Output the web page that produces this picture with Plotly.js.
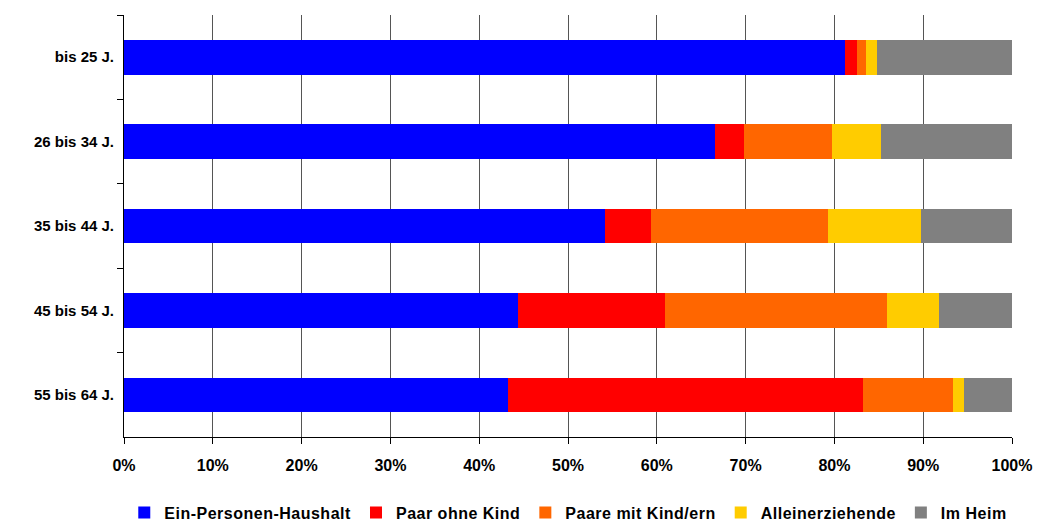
<!DOCTYPE html>
<html>
<head>
<meta charset="utf-8">
<script src="https://cdn.plot.ly/plotly-3.0.1.min.js"></script>
<style>
html,body{margin:0;padding:0;background:#fff;}
#chart{width:1037px;height:522px;}
.legendtext{letter-spacing:0.5px;}
</style>
</head>
<body>
<div id="chart"></div>
<script>
const categories = ["bis 25 J.", "26 bis 34 J.", "35 bis 44 J.", "45 bis 54 J.", "55 bis 64 J."];
const seriesNames = ["Ein-Personen-Haushalt", "Paar ohne Kind", "Paare mit Kind/ern", "Alleinerziehende", "Im Heim"];
const einPersonen = [81.2, 66.5, 54.2, 44.4, 43.2];
const paarOhneKind = [1.3, 3.3, 5.2, 16.5, 40.0];
const paareMitKind = [1.1, 9.9, 19.9, 25.0, 10.2];
const alleinerziehende = [1.2, 5.5, 10.4, 5.9, 1.2];
const imHeim = [15.2, 14.8, 10.3, 8.2, 5.4];
const colors = ["#0000FF", "#FF0000", "#FF6600", "#FFCC00", "#808080"];
const tickVals = [0, 10, 20, 30, 40, 50, 60, 70, 80, 90, 100];
const tickText = ["0%", "10%", "20%", "30%", "40%", "50%", "60%", "70%", "80%", "90%", "100%"];

const allSeries = [einPersonen, paarOhneKind, paareMitKind, alleinerziehende, imHeim];
const data = allSeries.map((vals, i) => ({
  type: "bar",
  orientation: "h",
  name: seriesNames[i],
  x: vals,
  y: categories,
  marker: {color: colors[i], line: {width: 0}},
  hoverinfo: "x+name"
}));

const fam = "Liberation Sans, Arial, sans-serif";

const layout = {
  width: 1037,
  height: 522,
  margin: {l: 124, r: 25, t: 15, b: 85},
  barmode: "stack",
  bargap: 0.59,
  paper_bgcolor: "#fff",
  plot_bgcolor: "#fff",
  font: {family: fam, size: 14, color: "#000"},
  showlegend: true,
  legend: {
    orientation: "h",
    xref: "container", x: 0.548, xanchor: "center",
    yref: "container", y: 0.018, yanchor: "middle",
    font: {family: fam, size: 16, color: "#000", weight: "bold"},
    itemwidth: 30,
    traceorder: "normal"
  },
  xaxis: {
    range: [0, 100],
    tickvals: tickVals,
    ticktext: tickText,
    showgrid: true,
    gridcolor: "#555",
    gridwidth: 1,
    showline: true,
    linecolor: "#000",
    linewidth: 1,
    ticks: "outside",
    ticklen: 6,
    tickcolor: "#000",
    ticklabelstandoff: 8,
    zeroline: false,
    tickfont: {family: fam, size: 16, color: "#000", weight: "bold"},
    fixedrange: true
  },
  yaxis: {
    type: "category",
    autorange: "reversed",
    showgrid: false,
    showline: true,
    linecolor: "#000",
    linewidth: 1,
    ticks: "outside",
    tickson: "boundaries",
    ticklen: 6,
    tickcolor: "#000",
    ticklabelstandoff: 6,
    tickfont: {family: fam, size: 15, color: "#000", weight: "bold"},
    fixedrange: true
  }
};

Plotly.newPlot("chart", data, layout, {displayModeBar: false, staticPlot: true});
</script>
</body>
</html>
